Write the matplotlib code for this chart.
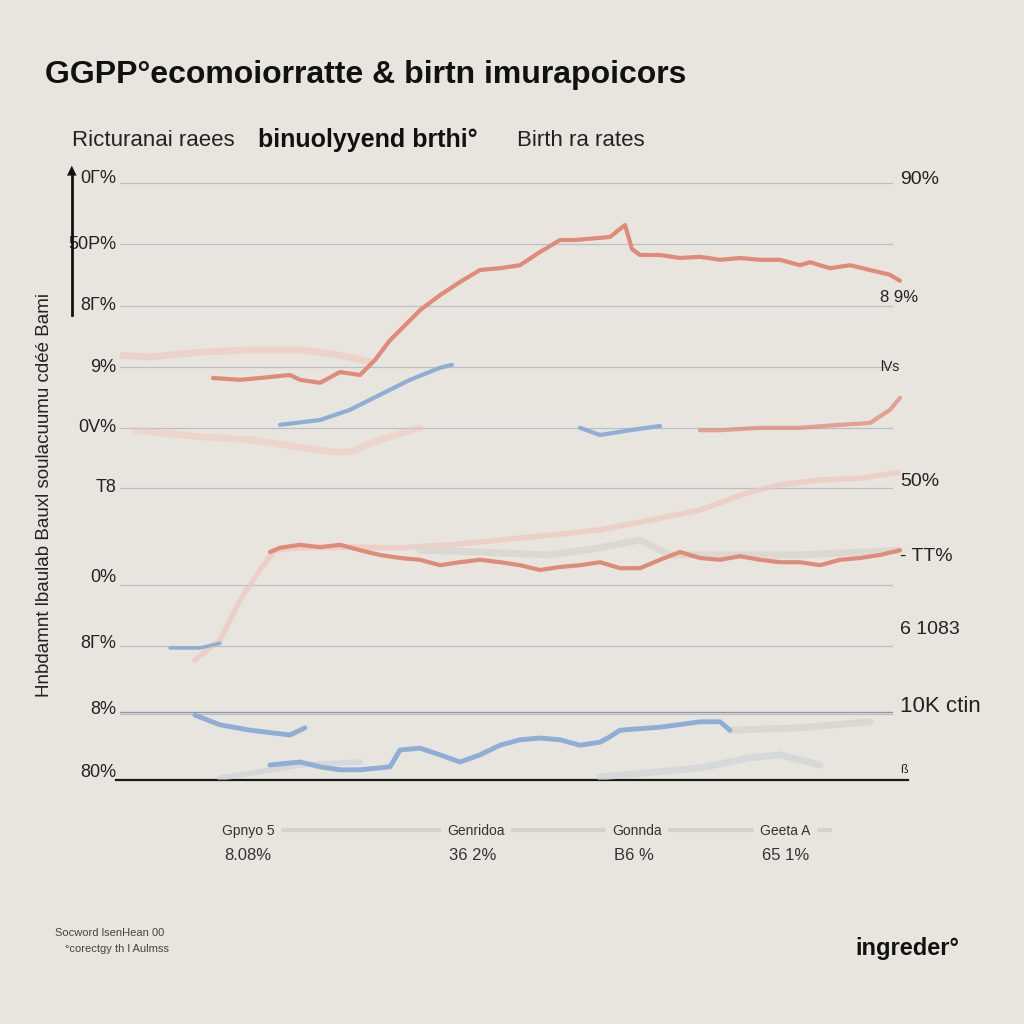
import numpy as np
import matplotlib.pyplot as plt

# ---- data (x = year, y = index 0..99.5) ----
yr_a = [1959.3, 1962, 1964, 1967, 1968, 1970, 1972, 1974, 1975.5, 1977, 1978.5, 1980, 1982, 1984,
        1986, 1988, 1990, 1992, 1994, 1995.5, 1999, 2000.5, 2001.2, 2002, 2004, 2006, 2008, 2010,
        2012, 2014, 2016, 2018, 2019, 2021, 2023, 2025, 2027, 2028]
val_a = [67.0, 66.7, 67.0, 67.5, 66.7, 66.2, 68.0, 67.5, 70.0, 73.3, 75.8, 78.3, 80.8, 83.0,
         85.0, 85.3, 85.8, 88.0, 90.0, 90.0, 90.5, 92.5, 88.5, 87.5, 87.5, 87.0, 87.2, 86.7,
         87.0, 86.7, 86.7, 85.8, 86.3, 85.3, 85.8, 85.0, 84.2, 83.2]

yr_b = [1949.5, 1953, 1958, 1963, 1968, 1972, 1975]
val_b = [70.8, 70.5, 71.3, 71.7, 71.7, 70.8, 69.7]

yr_c = [1951.5, 1958, 1963, 1968, 1971, 1973, 1976, 1980]
val_c = [58.3, 57.2, 56.7, 55.5, 54.7, 54.7, 56.7, 58.7]

yr_d = [1966, 1970, 1973, 1976, 1979, 1982, 1983.2]
val_d = [59.2, 60.0, 61.7, 64.2, 66.7, 68.7, 69.2]

yr_e = [1996, 1998, 2001, 2004]
val_e = [58.7, 57.5, 58.3, 59.0]

yr_f = [2008, 2010, 2014, 2018, 2022, 2025, 2027, 2028]
val_f = [58.3, 58.3, 58.7, 58.7, 59.2, 59.5, 61.7, 63.7]

yr_g = [1957.5, 1960, 1962, 1964, 1965.5, 1968, 1973, 1978, 1983, 1988, 1993, 1998, 2003,
        2008, 2013, 2016, 2020, 2024, 2028]
val_g = [20.0, 23.3, 30.0, 35.0, 38.3, 38.7, 38.8, 38.7, 39.2, 40.0, 40.8, 41.7, 43.3,
         45.0, 48.0, 49.2, 50.0, 50.3, 51.3]

yr_h = [1965, 1966, 1968, 1970, 1972, 1974, 1976, 1978, 1980, 1982, 1984, 1986, 1988, 1990,
        1992, 1994, 1996, 1998, 2000, 2002, 2004, 2006, 2008, 2010, 2012, 2014, 2016, 2018,
        2020, 2022, 2024, 2026, 2028]
val_h = [38.0, 38.7, 39.2, 38.8, 39.2, 38.3, 37.5, 37.0, 36.7, 35.8, 36.3, 36.7, 36.3, 35.8,
         35.0, 35.5, 35.8, 36.3, 35.3, 35.3, 36.7, 38.0, 37.0, 36.7, 37.3, 36.7, 36.3, 36.3,
         35.8, 36.7, 37.0, 37.5, 38.3]

yr_i = [1980, 1986, 1993, 1998, 2002, 2005, 2008, 2018, 2028]
val_i = [38.3, 38.0, 37.5, 38.7, 40.0, 37.5, 37.5, 37.5, 38.3]

yr_j = [1955, 1958, 1960]
val_j = [22.0, 22.0, 22.8]

yr_k = [1957.5, 1960, 1963, 1967, 1968.5]
val_k = [10.8, 9.2, 8.3, 7.5, 8.7]

yr_l = [1965, 1968, 1970, 1972, 1974, 1977, 1978, 1980, 1982, 1984, 1986, 1988, 1990, 1992,
        1994, 1996, 1998, 1999, 2000, 2004, 2008, 2010, 2011]
val_l = [2.5, 3.0, 2.2, 1.7, 1.7, 2.2, 5.0, 5.3, 4.2, 3.0, 4.2, 5.8, 6.7, 7.0,
         6.7, 5.8, 6.3, 7.2, 8.3, 8.8, 9.7, 9.7, 8.3]

yr_m = [2011, 2018, 2025]
val_m = [8.3, 8.7, 9.7]

yr_n1 = [1960, 1968, 1974]
val_n1 = [0.3, 2.5, 3.0]
yr_n2 = [1998, 2008, 2013, 2016, 2020]
val_n2 = [0.5, 2.0, 3.7, 4.2, 2.5]

grid_vals = [99.5, 89.3, 79.0, 68.8, 58.7, 48.7, 32.5, 22.3, 11.3, 0.0]
left_labels = ["0Γ%", "50Ρ%", "8Γ%", "9%", "0V%", "T8", "0%", "8Γ%", "8%", "80%"]
left_label_vals = [100.3, 89.3, 79.0, 68.8, 58.7, 48.7, 33.7, 22.8, 11.8, 1.2]

right_labels = ["90%", "8 9%", "lVs", "50%", "- TT%", "6 1083", "10K ctin", "ß"]
right_label_vals = [100.0, 80.5, 68.8, 49.7, 37.3, 25.0, 12.3, 1.7]

bottom_names = ["Gpnyo 5", "Genridoa", "Gonnda", "Geeta A"]
bottom_values = ["8.08%", "36 2%", "B6 %", "65 1%"]

BG = "#e8e5de"
RED = "#e08a78"
PINK = "#efc6bc"
BLUE = "#8eaed6"
GREY = "#d8d5ce"
FONT = ["Liberation Sans", "DejaVu Sans"]

fig = plt.figure(figsize=(10.24, 10.24), dpi=100, facecolor=BG)
ax = fig.add_axes([120 / 1024, 1 - 780 / 1024, 780 / 1024, 597 / 1024])
ax.set_facecolor(BG)
ax.set_xlim(1950, 2028)
ax.set_ylim(0, 99.5)
for s in ax.spines.values():
    s.set_visible(False)
ax.set_xticks([])
ax.set_yticks([])

# gridlines
for i, g in enumerate(grid_vals):
    if i == len(grid_vals) - 1:
        ax.axhline(g, xmin=-0.005, xmax=1.01, color="#1a1a1a", lw=1.6, clip_on=False)
    elif i == 8:
        ax.axhline(g, xmax=0.99, color="#8f95a3", lw=1.0)
        ax.axhline(g - 0.35, xmax=0.99, color="#b8bcc6", lw=0.8)
    else:
        ax.axhline(g, xmax=0.99, color="#b4b8c4", lw=0.9, alpha=0.85)

# faint background traces
ax.plot(yr_b, val_b, color=PINK, lw=5, alpha=0.6, solid_capstyle="round")
ax.plot(yr_c, val_c, color=PINK, lw=5, alpha=0.5, solid_capstyle="round")
ax.plot(yr_g, val_g, color=PINK, lw=4, alpha=0.65, solid_capstyle="round")
ax.plot(yr_i, val_i, color=GREY, lw=5, alpha=0.8, solid_capstyle="round")
ax.plot(yr_m, val_m, color=GREY, lw=5, alpha=0.8, solid_capstyle="round")
ax.plot(yr_n1, val_n1, color="#c9ced6", lw=4, alpha=0.6, solid_capstyle="round")
ax.plot(yr_n2, val_n2, color="#cdd0d6", lw=5, alpha=0.6, solid_capstyle="round")

# main traces
ax.plot(yr_d, val_d, color=BLUE, lw=3, solid_capstyle="round")
ax.plot(yr_e, val_e, color=BLUE, lw=3, solid_capstyle="round")
ax.plot(yr_j, val_j, color=BLUE, lw=2.5, solid_capstyle="round")
ax.plot(yr_k, val_k, color=BLUE, lw=3.5, solid_capstyle="round")
ax.plot(yr_l, val_l, color=BLUE, lw=3.5, solid_capstyle="round")
ax.plot(yr_f, val_f, color=RED, lw=3, alpha=0.75, solid_capstyle="round", clip_on=False)
ax.plot(yr_h, val_h, color=RED, lw=3, solid_capstyle="round", clip_on=False)
ax.plot(yr_a, val_a, color=RED, lw=3, solid_capstyle="round", clip_on=False)

# left tick labels
for lab, v in zip(left_labels, left_label_vals):
    ax.text(-0.005, v, lab, transform=ax.get_yaxis_transform(), ha="right", va="center",
            fontsize=13, family=FONT, color="#222222")

# right labels
right_x = [1.0, 0.975, 0.975, 1.0, 1.0, 1.0, 1.0, 1.0]
right_sz = [14, 12, 10, 14, 14, 14, 16, 9]
for lab, v, xx, sz in zip(right_labels, right_label_vals, right_x, right_sz):
    ax.text(xx, v, lab, transform=ax.get_yaxis_transform(), ha="left", va="center",
            fontsize=sz, family=FONT, color="#222222")

# titles
fig.text(45 / 1024, 1 - 75 / 1024, "GGPP°ecomoiorratte & birtn imurapoicors",
         fontsize=23, family=FONT, weight="bold", color="#111111", va="center", ha="left")
fig.text(72 / 1024, 1 - 140 / 1024, "Ricturanai raees", fontsize=16, family=FONT,
         color="#222222", va="center")
fig.text(258 / 1024, 1 - 140 / 1024, "binuolyyend brthi°", fontsize=18, family=FONT,
         weight="bold", color="#111111", va="center")
fig.text(517 / 1024, 1 - 140 / 1024, "Birth ra rates", fontsize=16, family=FONT,
         color="#222222", va="center")

# y label and arrow
fig.text(45 / 1024, 1 - 495 / 1024, "Hnbdamnt lbaulab Bauxl soulacuumu cdéé Bami",
         rotation=90, fontsize=13.5, family=FONT, color="#222222", va="center", ha="center")
fig.add_artist(plt.Line2D([72 / 1024, 72 / 1024], [1 - 315 / 1024, 1 - 172 / 1024],
                          color="#111111", lw=2))
fig.text(72 / 1024, 1 - 170 / 1024, "▲", fontsize=9, ha="center", va="center", color="#111111")

# bottom summary
bottom_x = [222, 447, 612, 760]
fig.add_artist(plt.Line2D([275 / 1024, 830 / 1024], [1 - 830 / 1024, 1 - 830 / 1024],
                          color="#d2cec6", lw=3, alpha=0.8))
for nm, vv, bx in zip(bottom_names, bottom_values, bottom_x):
    fig.text(bx / 1024, 1 - 831 / 1024, nm, fontsize=10, family=FONT, color="#333333",
             va="center", ha="left", backgroundcolor=BG)
    fig.text((bx + 2) / 1024, 1 - 856 / 1024, vv, fontsize=12, family=FONT, color="#333333",
             va="center", ha="left")

# footer
fig.text(55 / 1024, 1 - 933 / 1024, "Socword lsenHean 00", fontsize=8, family=FONT,
         color="#444444", va="center")
fig.text(65 / 1024, 1 - 949 / 1024, "°corectgy th l Aulmss", fontsize=8, family=FONT,
         color="#444444", va="center")
fig.text(855 / 1024, 1 - 948 / 1024, "ingreder°", fontsize=17, family=FONT, weight="bold",
         color="#111111", va="center")

fig.savefig("out.png", dpi=100, facecolor=BG)
